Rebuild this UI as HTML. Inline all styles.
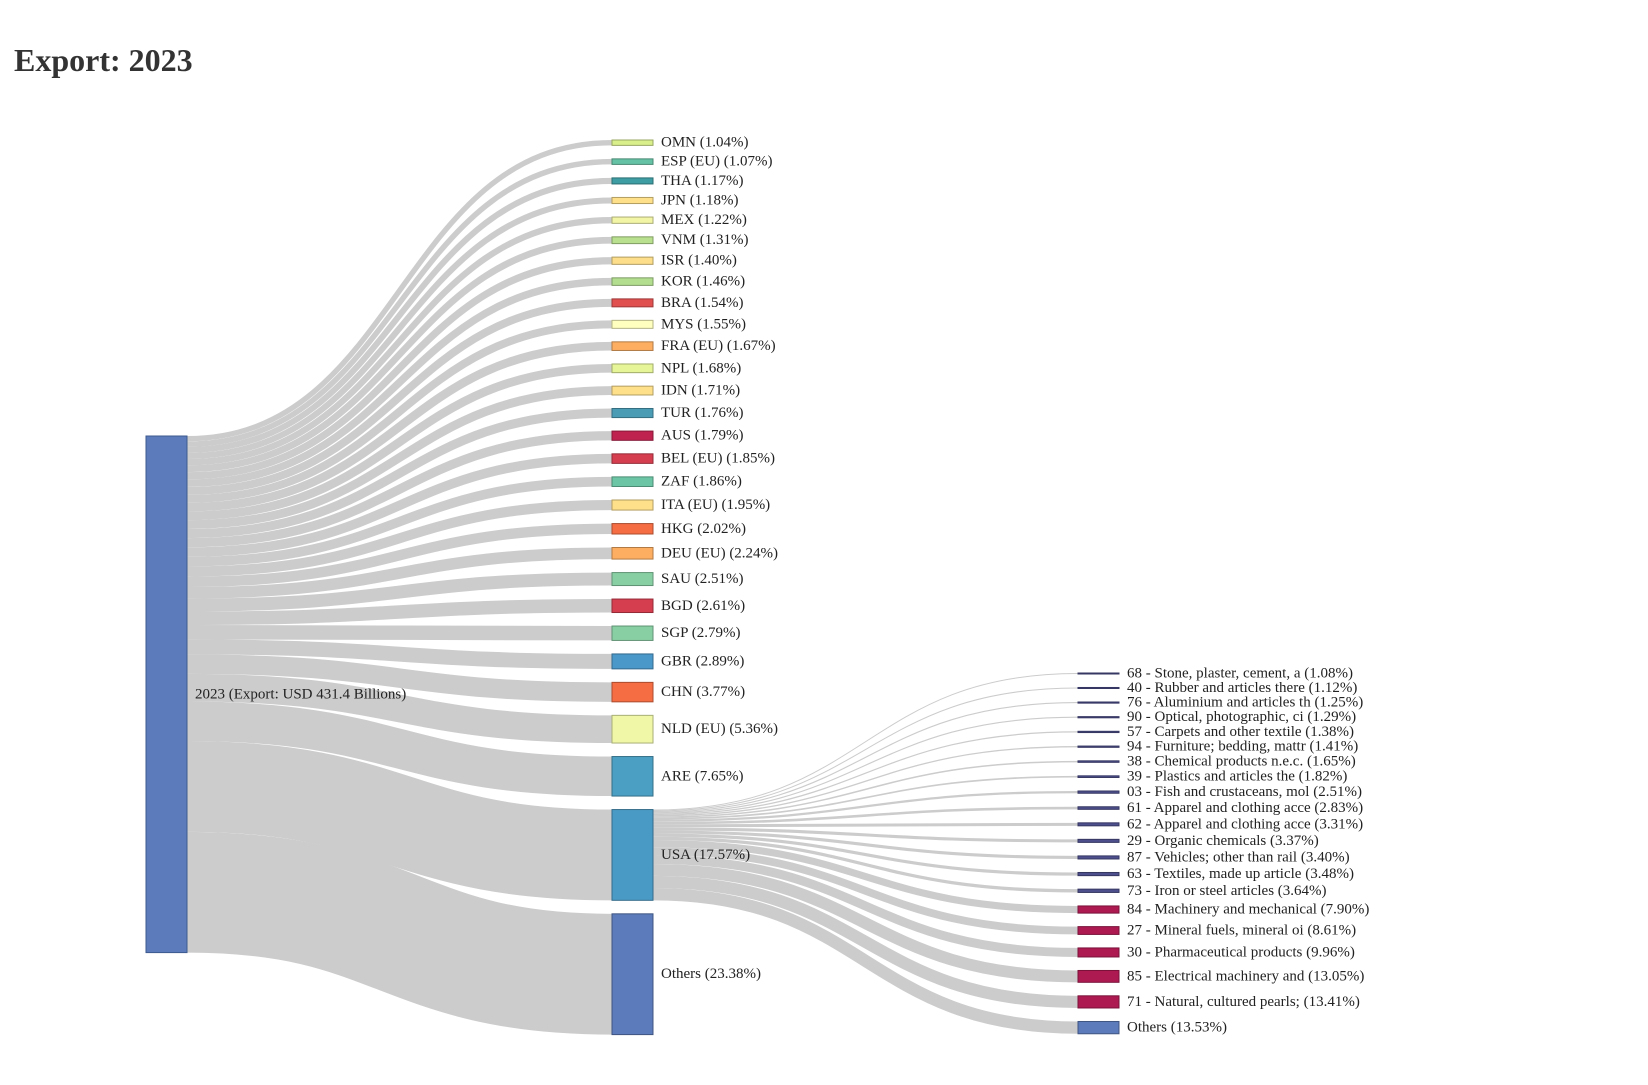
<!DOCTYPE html>
<html><head><meta charset="utf-8"><style>
html,body{margin:0;padding:0;background:#fff;}
svg text{font-family:"Liberation Serif",serif;fill:#222;}
</style></head><body>
<svg id="chart" width="1648" height="1080" viewBox="0 0 1648 1080" xmlns="http://www.w3.org/2000/svg">
<text x="14" y="71" font-size="32" font-weight="bold" style="fill:#333">Export: 2023</text>
<g id="links"></g><g id="nodes"></g><g id="labels"></g>
</svg>
<script>
const countries = ["OMN","ESP (EU)","THA","JPN","MEX","VNM","ISR","KOR","BRA","MYS","FRA (EU)","NPL","IDN","TUR","AUS","BEL (EU)","ZAF","ITA (EU)","HKG","DEU (EU)","SAU","BGD","SGP","GBR","CHN","NLD (EU)","ARE","USA","Others"];
const countryPct = [1.04,1.07,1.17,1.18,1.22,1.31,1.40,1.46,1.54,1.55,1.67,1.68,1.71,1.76,1.79,1.85,1.86,1.95,2.02,2.24,2.51,2.61,2.79,2.89,3.77,5.36,7.65,17.57,23.38];
const countryColors = ["#d9ef8b","#66c2a5","#3e9da3","#fee08b","#f3f5a6","#b8e08e","#fddf8b","#b3de8f","#e0504f","#ffffbf","#fdae61","#e6f598","#fee08b","#4a9cb5","#c0224f","#d53e4f","#6cc6a6","#fee08b","#f46d43","#fdae61","#88d0a4","#d53e4f","#88d0a4","#4a98c9","#f46d43","#f0f8a8","#4b9fc2","#4a9ac6","#5b7bba"];
const products = ["68 - Stone, plaster, cement, a","40 - Rubber and articles there","76 - Aluminium and articles th","90 - Optical, photographic, ci","57 - Carpets and other textile","94 - Furniture; bedding, mattr","38 - Chemical products n.e.c.","39 - Plastics and articles the","03 - Fish and crustaceans, mol","61 - Apparel and clothing acce","62 - Apparel and clothing acce","29 - Organic chemicals","87 - Vehicles; other than rail","63 - Textiles, made up article","73 - Iron or steel articles","84 - Machinery and mechanical","27 - Mineral fuels, mineral oi","30 - Pharmaceutical products","85 - Electrical machinery and","71 - Natural, cultured pearls;","Others"];
const productPct = [1.08,1.12,1.25,1.29,1.38,1.41,1.65,1.82,2.51,2.83,3.31,3.37,3.40,3.48,3.64,7.90,8.61,9.96,13.05,13.41,13.53];
const sourceLabel = "2023 (Export: USD 431.4 Billions)";
const parentIndex = 27; // USA

const NS="http://www.w3.org/2000/svg";
const K=5.166, GAP=13.5, NW=41;
const X0=146, X1=612, X2=1078;
const linksG=document.getElementById('links'), nodesG=document.getElementById('nodes'), labelsG=document.getElementById('labels');
function mk(tag,attrs,parent){const e=document.createElementNS(NS,tag);for(const k in attrs)e.setAttribute(k,attrs[k]);parent.appendChild(e);return e;}
function link(xa,ya,xb,yb,w){const xm=(xa+xb)/2;const p=mk('path',{d:`M${xa},${ya}C${xm},${ya} ${xm},${yb} ${xb},${yb}`,fill:'none',stroke:'#cccccc','stroke-width':Math.max(w,0.8)},linksG);return p;}
function label(x,y,t,fs){const e=mk('text',{x:x,y:y,'font-size':fs,'dominant-baseline':'central'},labelsG);e.textContent=t;return e;}
function darker(c){const n=parseInt(c.slice(1),16);const f=v=>Math.round(v*0.7);return `rgb(${f(n>>16)},${f((n>>8)&255)},${f(n&255)})`;}

// source node
const srcTop=436, srcH=countryPct.reduce((a,b)=>a+b,0)*K;
const sn=mk('rect',{x:X0,y:srcTop,width:NW,height:srcH,fill:'#5b7bba',stroke:'#3d5a8f','stroke-width':1},nodesG);


const sl=label(X0+NW+8,srcTop+srcH/2,sourceLabel,15);



// middle nodes
let y=140, sy=srcTop, parentTop=0, parentH=0;
countries.forEach((c,i)=>{
  const h=countryPct[i]*K;
  const l=link(X0+NW,sy+h/2,X1,y+h/2,h);
  
  
  const r=mk('rect',{x:X1,y:y,width:NW,height:h,fill:countryColors[i],stroke:darker(countryColors[i]),'stroke-width':1},nodesG);
  
  
  const t=label(X1+NW+8,y+h/2,`${c} (${countryPct[i].toFixed(2)}%)`,15);
  
  
  if(i===parentIndex){parentTop=y;parentH=h;}
  sy+=h; y+=h+GAP;
});

// right nodes (USA breakdown)
const pScale=countryPct[parentIndex]/100*K;
let ry=673, py=parentTop;
products.forEach((p,i)=>{
  const h=productPct[i]*pScale;
  const col = i>=20 ? '#5b7bba' : (i>=15 ? '#ad1a52' : '#4d4f8c');
  const l=link(X1+NW,py+h/2,X2,ry+h/2,h);
  
  
  const r=mk('rect',{x:X2,y:ry,width:NW,height:Math.max(h,1),fill:col,stroke:darker(col),'stroke-width':1},nodesG);
  
  
  const t=label(X2+NW+8,ry+h/2,`${p} (${productPct[i].toFixed(2)}%)`,15);
  
  
  py+=h; ry+=h+GAP;
});
</script>
</body></html>
